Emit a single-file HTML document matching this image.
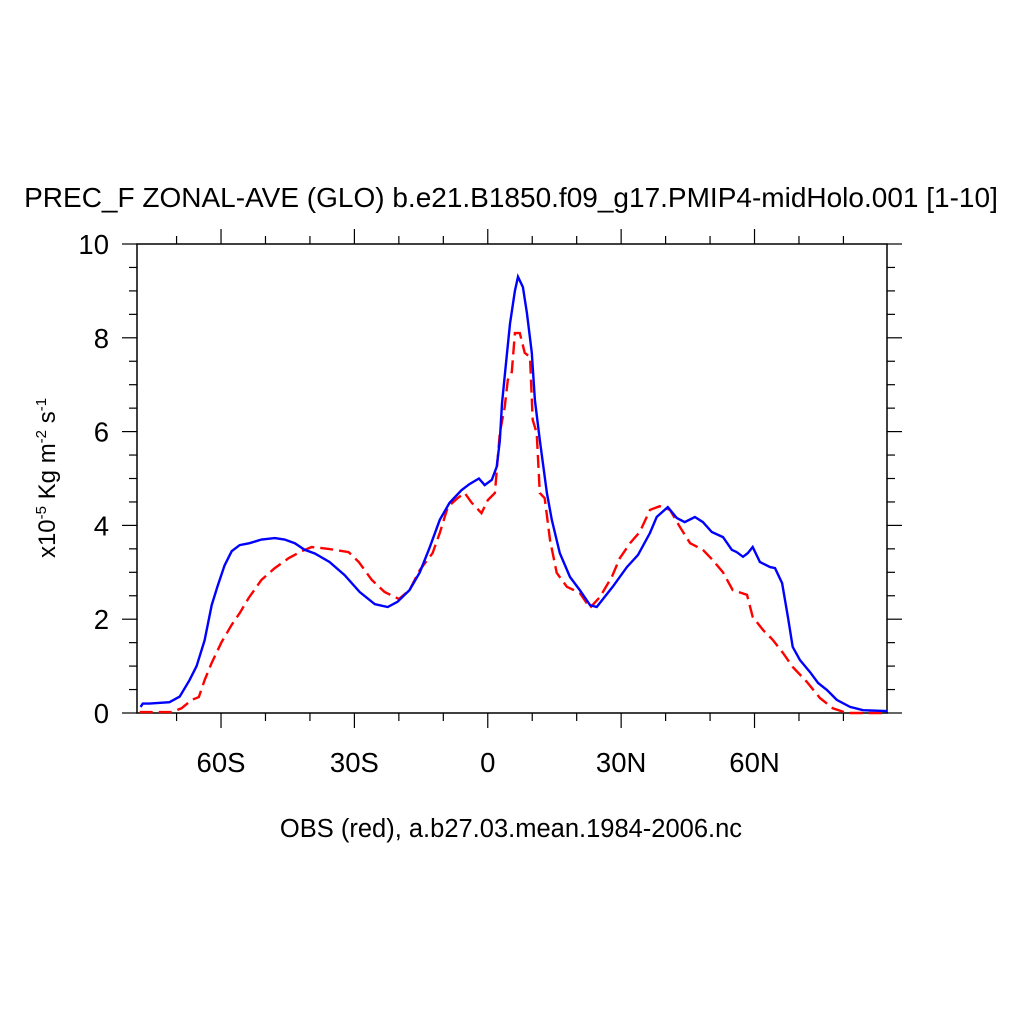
<!DOCTYPE html>
<html><head><meta charset="utf-8">
<style>
html,body{margin:0;padding:0;background:#fff;}
svg{display:block;font-family:"Liberation Sans",Arial,sans-serif;}
</style></head>
<body>
<svg id="chart" width="1024" height="1024" viewBox="0 0 1024 1024">
<text x="511" y="207" font-size="28" text-anchor="middle">PREC_F ZONAL-AVE (GLO) b.e21.B1850.f09_g17.PMIP4-midHolo.001 [1-10]</text>
<text transform="translate(55,478) rotate(-90)" font-size="24" text-anchor="middle">x10<tspan font-size="15" dy="-9">-5</tspan><tspan dy="9"> Kg m</tspan><tspan font-size="15" dy="-9">-2</tspan><tspan dy="9"> s</tspan><tspan font-size="15" dy="-9">-1</tspan></text>
<text x="511" y="837" font-size="25.5" text-anchor="middle">OBS (red), a.b27.03.mean.1984-2006.nc</text>
<g id="axes"></g>
<g id="series"></g>
</svg>
<script>
const yTicks=[0,2,4,6,8,10];
const xTicks=[-60,-30,0,30,60];
const xTickLabels=["60S","30S","0","30N","60N"];
const modelLat=[-78.1,-77.6,-76.1,-71.6,-69.3,-67.1,-65.5,-63.7,-62.1,-60.8,-59.2,-57.6,-55.8,-53.6,-50.9,-47.9,-45.7,-43.4,-41.2,-38.9,-35.6,-32.2,-28.8,-25.4,-22.5,-20.3,-17.6,-15.3,-13.1,-10.8,-8.6,-5.9,-4.1,-2.0,-0.7,0.9,2.0,2.7,3.2,4.1,5.0,6.1,6.8,7.9,8.8,9.9,10.6,11.7,13.3,14.4,16.2,18.5,20.7,23.0,24.5,28.1,31.3,33.8,36.5,38.0,40.5,42.5,44.3,46.6,48.4,50.4,52.9,54.9,56.0,57.4,58.5,59.6,61.2,63.5,64.6,66.2,67.5,68.6,70.2,72.5,74.3,76.3,78.5,81.5,84.4,89.8];
const modelVal=[0.13,0.2,0.2,0.23,0.35,0.7,1.0,1.55,2.3,2.7,3.15,3.45,3.58,3.62,3.7,3.73,3.7,3.62,3.48,3.4,3.22,2.94,2.58,2.32,2.26,2.37,2.62,3.0,3.52,4.12,4.48,4.75,4.88,5.0,4.86,4.97,5.25,5.8,6.6,7.46,8.3,9.0,9.3,9.08,8.53,7.68,6.67,5.82,4.69,4.12,3.41,2.9,2.62,2.3,2.26,2.69,3.11,3.37,3.84,4.18,4.39,4.16,4.07,4.18,4.07,3.86,3.75,3.48,3.43,3.33,3.41,3.54,3.22,3.11,3.09,2.77,2.05,1.41,1.13,0.87,0.64,0.49,0.28,0.13,0.06,0.04];
const obsLat=[-78.3,-71.1,-68.9,-66.6,-65.0,-63.7,-62.1,-59.9,-57.6,-55.8,-53.8,-50.9,-47.9,-44.8,-41.9,-39.6,-35.8,-31.3,-29.0,-26.1,-23.2,-20.0,-17.6,-15.3,-12.4,-10.8,-9.0,-6.8,-5.2,-3.6,-2.5,-1.4,0,1.6,2.7,3.8,4.5,5.4,6.1,7.2,8.3,9.5,10.1,11.0,11.7,12.8,14.0,15.5,17.8,20.7,23.0,25.2,27.9,29.7,32.0,34.2,36.5,38.7,41.0,43.2,45.5,48.4,50.6,52.9,55.1,58.3,59.6,61.9,64.1,66.4,68.6,71.8,74.7,77.6,80.8,89.8];
const obsVal=[0.02,0.02,0.1,0.28,0.34,0.7,1.07,1.51,1.88,2.13,2.45,2.84,3.09,3.3,3.45,3.54,3.5,3.43,3.22,2.84,2.58,2.43,2.62,3.05,3.41,3.84,4.39,4.58,4.69,4.48,4.37,4.26,4.54,4.69,5.97,6.52,7.1,7.27,8.1,8.1,7.68,7.59,6.25,5.97,4.69,4.58,3.69,2.99,2.69,2.56,2.24,2.47,2.9,3.3,3.62,3.86,4.33,4.41,4.33,3.97,3.62,3.48,3.26,3.0,2.62,2.52,2.05,1.77,1.56,1.28,0.98,0.66,0.32,0.1,0,0];

const L=137,R=887,T=244,B=713,XMIN=-78.9,XMAX=89.8,YMAX=10;
const sx=v=>L+(v-XMIN)/(XMAX-XMIN)*(R-L);
const sy=v=>B-v/YMAX*(B-T);
const NS="http://www.w3.org/2000/svg";
const axes=document.getElementById('axes'),series=document.getElementById('series');
function mk(tag,attrs,parent){const e=document.createElementNS(NS,tag);for(const k in attrs)e.setAttribute(k,attrs[k]);parent.appendChild(e);return e;}
const frame=mk('rect',{x:L,y:T,width:R-L,height:B-T,fill:'none',stroke:'#000','stroke-width':1.5},axes);


for(let v=0;v<=10.001;v+=0.5){
  const major=Math.abs(v-Math.round(v/2)*2)<1e-6;const len=major?15:8;const y=sy(v);
  const t1=mk('line',{x1:L-len,x2:L,y1:y,y2:y,stroke:'#000','stroke-width':1.2},axes);
  
  
  const t2=mk('line',{x1:R,x2:R+len,y1:y,y2:y,stroke:'#000','stroke-width':1.2},axes);
  
  
}
yTicks.forEach(v=>{const t=mk('text',{x:109,y:sy(v)+10,'font-size':27.5,'text-anchor':'end'},axes);t.textContent=v;
  
  });
for(let v=-70;v<=80;v+=10){
  const major=v%30===0;const len=major?15:8;const x=sx(v);
  const t1=mk('line',{x1:x,x2:x,y1:B,y2:B+len,stroke:'#000','stroke-width':1.2},axes);
  
  
  const t2=mk('line',{x1:x,x2:x,y1:T-len,y2:T,stroke:'#000','stroke-width':1.2},axes);
  
  
}
xTicks.forEach((v,i)=>{const t=mk('text',{x:sx(v),y:772,'font-size':27.5,'text-anchor':'middle'},axes);t.textContent=xTickLabels[i];
  
  });
function path(lat,val){return lat.map((a,i)=>(i?'L':'M')+sx(a).toFixed(1)+','+sy(val[i]).toFixed(1)).join('');}
const obs=mk('path',{d:path(obsLat,obsVal),fill:'none',stroke:'#ff0000','stroke-width':2.4,'stroke-dasharray':'13,6'},series);


const mod=mk('path',{d:path(modelLat,modelVal),fill:'none',stroke:'#0000ff','stroke-width':2.4},series);


</script>
</body></html>
